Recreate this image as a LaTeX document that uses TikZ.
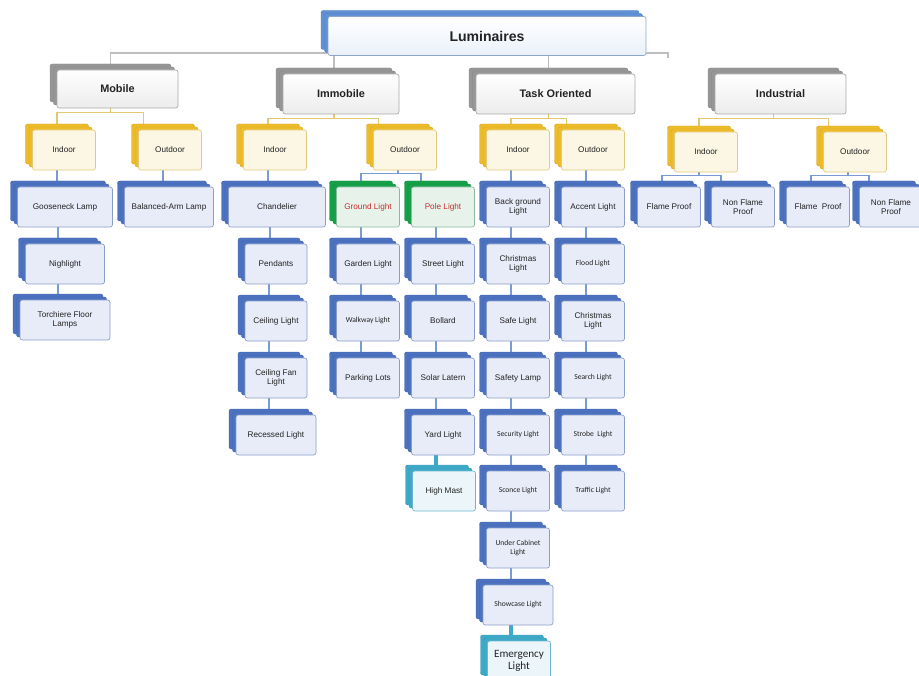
\documentclass[tikz,border=0pt]{standalone}
\usepackage{fontspec}
\setmainfont{Liberation Sans}
\newfontfamily\calfont{Carlito}
\usetikzlibrary{positioning}
\usetikzlibrary{shadows}
\usetikzlibrary{backgrounds}

\definecolor{txtc}{RGB}{35,35,35}
\definecolor{lumS}{RGB}{95,145,212}
\definecolor{lumB}{RGB}{140,165,205}
\definecolor{lumF}{RGB}{234,241,250}
\definecolor{grayS}{RGB}{150,150,150}
\definecolor{grayB}{RGB}{168,168,168}
\definecolor{grayF}{RGB}{236,236,236}
\definecolor{yelS}{RGB}{238,188,42}
\definecolor{yelB}{RGB}{226,202,125}
\definecolor{yelF}{RGB}{251,247,228}
\definecolor{bluS}{RGB}{76,114,192}
\definecolor{bluB}{RGB}{138,157,200}
\definecolor{bluF}{RGB}{232,236,248}
\definecolor{bluL}{RGB}{120,155,212}
\definecolor{grnS}{RGB}{22,160,72}
\definecolor{grnB}{RGB}{140,185,160}
\definecolor{grnF}{RGB}{230,242,234}
\definecolor{tealS}{RGB}{62,170,200}
\definecolor{tealB}{RGB}{110,182,206}
\definecolor{tealF}{RGB}{236,246,250}
\definecolor{redT}{RGB}{200,45,45}

\tikzset{
  box/.style={rectangle, rounded corners=2pt, align=center, inner sep=1pt,
    minimum width=1.89cm, minimum height=1.2cm, text=txtc, line width=0.6pt,
    font=\fontsize{7}{8}\selectfont},
  stack/.style={double copy shadow={shadow xshift=-0.105cm, shadow yshift=0.09cm,
    fill=#1, draw=#1!90!black, line width=0.4pt}},
  wd/.style={minimum width=#1*0.03cm},
  rootbox/.style={box, draw=lumB, top color=white, bottom color=lumF, stack=lumS,
    font=\bfseries\fontsize{12}{14}\selectfont},
  headbox/.style={box, draw=grayB, top color=white, bottom color=grayF, stack=grayS,
    font=\bfseries\fontsize{9.3}{11}\selectfont},
  catbox/.style={box, draw=yelB, fill=yelF, stack=yelS},
  itembox/.style={box, draw=bluB, fill=bluF, stack=bluS},
  grnbox/.style={box, draw=grnB, fill=grnF, stack=grnS, text=redT},
  tealbox/.style={box, draw=tealB, fill=tealF, stack=tealS},
  small/.style={font=\calfont\fontsize{6.5}{7.5}\selectfont},
  toplink/.style={draw=grayB!75, line width=1pt},
  catlink/.style={draw=yelB!85!yelS, line width=1pt},
  link/.style={draw=bluL, line width=1.2pt},
  heavylink/.style={draw=tealS, line width=3pt},
}

\begin{document}
\begin{tikzpicture}[x=0.03cm,y=-0.03cm]
\useasboundingbox (0,0) rectangle (919,676);
% root and heads
\node[rootbox, wd=318, minimum height=1.17cm] (lum) at (487,36) {Luminaires};
\node[headbox, wd=121, minimum height=1.14cm] (mob) at (117.5,89) {Mobile};
\node[headbox, wd=116] (imm) at (341,94) {Immobile};
\node[headbox, wd=159] (task) at (555.5,94) {Task Oriented};
\node[headbox, wd=131] (ind) at (780.5,94) {Industrial};
% indoor / outdoor
\node[catbox] (mobin) at (64,150) {Indoor};
\node[catbox] (mobout) at (170,150) {Outdoor};
\node[catbox] (immin) at (275,150) {Indoor};
\node[catbox] (immout) at (405,150) {Outdoor};
\node[catbox] (taskin) at (518,150) {Indoor};
\node[catbox] (taskout) at (593,150) {Outdoor};
\node[catbox] (indin) at (706,152) {Indoor};
\node[catbox] (indout) at (855,152) {Outdoor};
% mobile
\node[itembox, wd=95] (goose) at (65,207) {Gooseneck Lamp};
\node[itembox, wd=79] (nigh) at (65,264) {Nighlight};
\node[itembox, wd=90] (torch) at (65,320) {Torchiere Floor\\Lamps};
\node[itembox, wd=89] (balarm) at (169,207) {Balanced-Arm Lamp};
% immobile
\node[itembox, wd=97] (chand) at (277,207) {Chandelier};
\node[itembox, wd=62] (pend) at (276,264) {Pendants};
\node[itembox, wd=62] (ceil) at (276,321) {Ceiling Light};
\node[itembox, wd=62] (ceilfan) at (276,378) {Ceiling Fan\\Light};
\node[itembox, wd=80] (recess) at (276,435) {Recessed Light};
\node[grnbox] (ground) at (368,207) {Ground Light};
\node[itembox] (garden) at (368,264) {Garden Light};
\node[itembox, small] (walk) at (368,321) {Walkway Light};
\node[itembox] (park) at (368,378) {Parking Lots};
\node[grnbox] (pole) at (443,207) {Pole Light};
\node[itembox] (street) at (443,264) {Street Light};
\node[itembox] (bollard) at (443,321) {Bollard};
\node[itembox] (solar) at (443,378) {Solar Latern};
\node[itembox] (yard) at (443,435) {Yard Light};
\node[tealbox] (highmast) at (444,491) {High Mast};
% task oriented
\node[itembox] (backg) at (518,207) {Back ground\\Light};
\node[itembox] (christin) at (518,264) {Christmas\\Light};
\node[itembox] (safe) at (518,321) {Safe Light};
\node[itembox] (safety) at (518,378) {Safety Lamp};
\node[itembox, small] (secur) at (518,435) {Security Light};
\node[itembox, small] (sconce) at (518,491) {Sconce Light};
\node[itembox, small] (undercab) at (518,548) {Under Cabinet\\Light};
\node[itembox, small, wd=70] (showcase) at (518,605) {Showcase Light};
\node[tealbox, font=\calfont\fontsize{9.5}{10.5}\selectfont] (emerg) at (519,661) {Emergency\\Light};
\node[itembox] (accent) at (593,207) {Accent Light};
\node[itembox, small] (flood) at (593,264) {Flood Light};
\node[itembox] (christout) at (593,321) {Christmas\\Light};
\node[itembox, small] (search) at (593,378) {Search Light};
\node[itembox, small] (strobe) at (593,435) {Strobe\ \ Light};
\node[itembox, small] (traffic) at (593,491) {Traffic Light};
% industrial
\node[itembox] (flame1) at (669,207) {Flame Proof};
\node[itembox] (nonflame1) at (743,207) {Non Flame\\Proof};
\node[itembox] (flame2) at (818,207) {Flame\ \ Proof};
\node[itembox] (nonflame2) at (891,207) {Non Flame\\Proof};

\begin{scope}[on background layer]
% root bus
\coordinate (busend) at (668,53);
\draw[toplink] ([xshift=-0.21cm]lum.south) -- ([xshift=-0.21cm]lum.south |- busend);
\draw[toplink] ([xshift=-0.21cm]mob.north) -- ([xshift=-0.21cm]mob.north |- busend) -- (busend) -- ++(0,5);
\foreach \h in {imm,task}
  \draw[toplink] ([xshift=-0.21cm]\h.north) -- ([xshift=-0.21cm]\h.north |- busend);
% heads to indoor / outdoor
\foreach \p/\a/\b in {mob/mobin/mobout, imm/immin/immout, task/taskin/taskout, ind/indin/indout}{
  \draw[catlink] ([xshift=-0.21cm]\p.south) -- ++(0,4) -| ([xshift=-0.21cm]\a.north);
  \draw[catlink] ([xshift=-0.21cm]\p.south) -- ++(0,4) -| ([xshift=0.15cm]\b.north west);
}
% split branches
\foreach \p/\a/\b in {immout/ground/pole, indin/flame1/nonflame1, indout/flame2/nonflame2}{
  \draw[link] ([xshift=-0.21cm]\p.south) -- ++(0,3) -| ([xshift=-0.21cm]\a.north);
  \draw[link] ([xshift=-0.21cm]\p.south) -- ++(0,3) -| ([xshift=0.3cm]\b.north west);
}
% chains
\foreach \a/\b in {mobin/goose, goose/nigh, nigh/torch, mobout/balarm,
    immin/chand, chand/pend, pend/ceil, ceil/ceilfan, ceilfan/recess,
    ground/garden, garden/walk, walk/park,
    pole/street, street/bollard, bollard/solar, solar/yard,
    taskin/backg, backg/christin, christin/safe, safe/safety, safety/secur,
    secur/sconce, sconce/undercab, undercab/showcase,
    taskout/accent, accent/flood, flood/christout, christout/search,
    search/strobe, strobe/traffic}
  \draw[link] ([xshift=-0.21cm]\a.south) -- ([xshift=-0.21cm]\a.south |- \b.north);
\foreach \a/\b in {yard/highmast, showcase/emerg}
  \draw[heavylink] ([xshift=-0.21cm]\a.south) -- ([xshift=-0.21cm]\a.south |- \b.north);
\end{scope}
\end{tikzpicture}
\end{document}
